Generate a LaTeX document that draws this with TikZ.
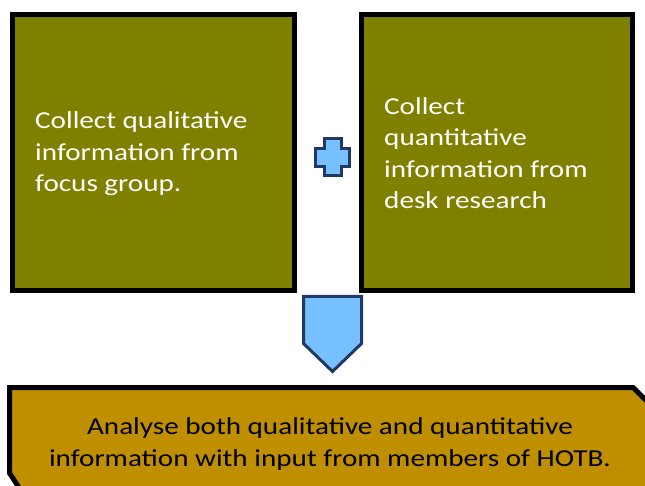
\documentclass[tikz,border=0pt]{standalone}
\usepackage{fontspec}
\setmainfont{Carlito}[FakeStretch=1.2]
\usetikzlibrary{positioning,calc}

\definecolor{olivebox}{HTML}{808000}
\definecolor{goldbox}{HTML}{BF8F00}
\definecolor{lightblue}{HTML}{77C0FF}
\definecolor{darkblue}{HTML}{203864}

\tikzset{
    collect/.style={draw=black, line width=5pt, fill=olivebox, minimum height=276pt},
    collecttext/.style={text=white, anchor=west, align=left, inner sep=0pt, font=\fontsize{24.3}{31.5}\selectfont},
    symbolshape/.style={draw=darkblue, line width=3pt, fill=lightblue, line join=miter},
}

\begin{document}
\begin{tikzpicture}[x=1pt, y=-1pt]
    \useasboundingbox (0,0) rectangle (645,486);

    %coordinates
    \coordinate (qualc)  at (153.5,152.5);
    \coordinate (quantc) at (497,152.5);
    \coordinate (plusc)  at (332.5,157);
    \coordinate (downc)  at (332.5,296.5);

    %nodes
    \node[collect, minimum width=282pt] (qual) at (qualc) {};
    \node[collect, minimum width=271pt] (quant) at (quantc) {};

    \node[collecttext] (qualtext) at (35,154) {Collect qualitative\\information from\\focus group.};
    \node[collecttext] (quanttext) at (384,153) {Collect\\quantitative\\information from\\desk research};

    %plus sign
    \draw[symbolshape] ($(plusc)+(-8.5,-18.5)$) -- ($(plusc)+(8.5,-18.5)$) -- ($(plusc)+(8.5,-8.5)$)
        -- ($(plusc)+(17,-8.5)$) -- ($(plusc)+(17,9.5)$) -- ($(plusc)+(8.5,9.5)$)
        -- ($(plusc)+(8.5,18.5)$) -- ($(plusc)+(-8.5,18.5)$) -- ($(plusc)+(-8.5,9.5)$)
        -- ($(plusc)+(-17,9.5)$) -- ($(plusc)+(-17,-8.5)$) -- ($(plusc)+(-8.5,-8.5)$) -- cycle;

    %down arrow
    \draw[symbolshape] ($(downc)+(-29,0)$) -- ($(downc)+(29,0)$) -- ($(downc)+(29,47)$)
        -- ($(downc)+(0,75)$) -- ($(downc)+(-29,47)$) -- cycle;

    %bottom box
    \draw[draw=black, line width=5pt, fill=goldbox]
        (9.5,387.5) -- (633,387.5) -- (655,409) -- (655,500) -- (27,500) -- (9.5,473) -- cycle;
    \node[text=black, align=center, font=\fontsize{24.3}{31.5}\selectfont] (analyse) at (330,444)
        {Analyse both qualitative and quantitative\\information with input from members of HOTB.};
\end{tikzpicture}
\end{document}
